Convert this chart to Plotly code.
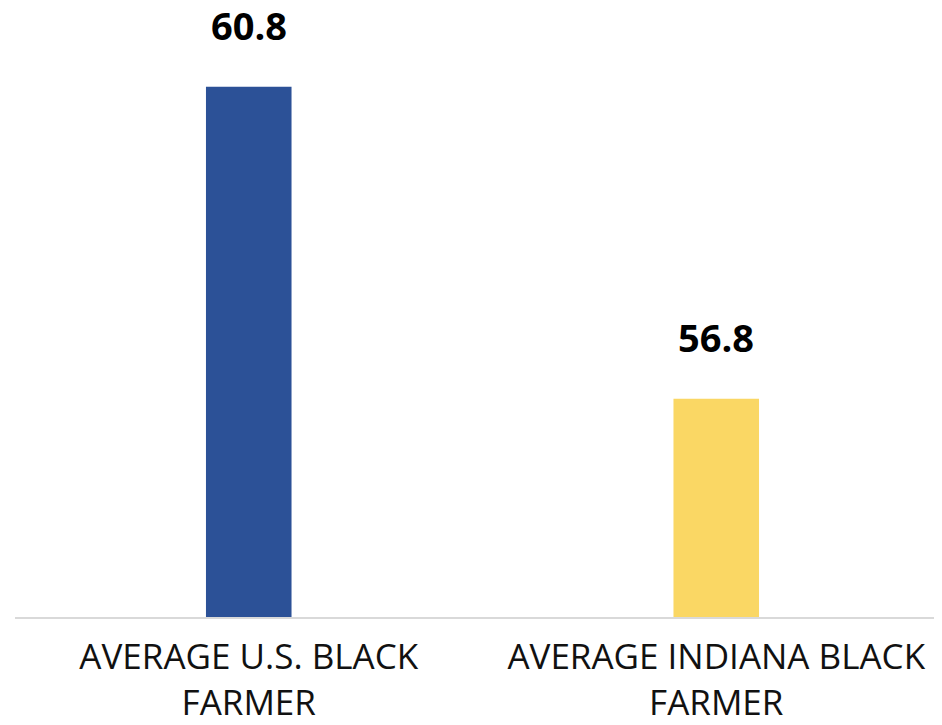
import plotly.graph_objects as go

categories = ["AVERAGE U.S. BLACK<br>FARMER", "AVERAGE INDIANA BLACK<br>FARMER"]
values = [60.8, 56.8]
colors = ["#2C5197", "#FAD764"]

fig = go.Figure()
fig.add_trace(go.Bar(x=categories, y=values, marker_color=colors, marker_line_width=0))
for c, v in zip(categories, values):
    fig.add_annotation(x=c, y=v, text=f"<b>{v}</b>", showarrow=False, yanchor="bottom",
                       yshift=34, font=dict(family="Open Sans", size=38, color="#000000"))

fig.update_layout(
    width=942, height=725, margin=dict(l=7, r=0, t=0, b=116),
    paper_bgcolor="white", plot_bgcolor="white", showlegend=False, bargap=0.817,
    xaxis=dict(showline=True, linecolor="#D9D9D9", linewidth=2, ticks="",
               automargin=False,
               tickfont=dict(family="Open Sans", size=35, color="#111111"),
               ticklabelstandoff=8),
    yaxis=dict(range=[54, 61.81], visible=False, automargin=False),
)
fig.write_html("out.html")
